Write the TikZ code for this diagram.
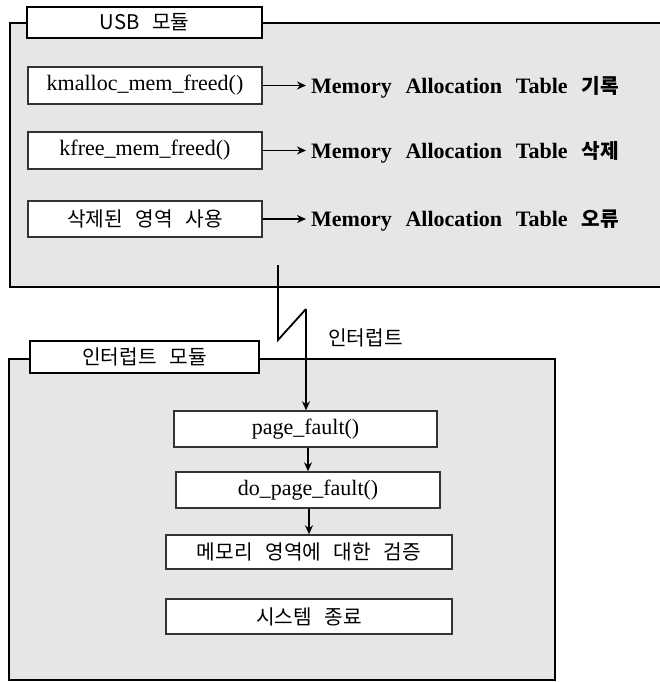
\documentclass[tikz,border=0pt]{standalone}
\usepackage{fontspec}
\setmainfont{Liberation Serif}[WordSpace=2.5]
\newfontfamily\kr[Scale=0.92,WordSpace=2.8]{Noto Sans CJK KR}
\usetikzlibrary{arrows.meta}
\definecolor{panel}{HTML}{E6E6E6}
\definecolor{boxline}{HTML}{333333}
\newcommand{\bigsz}{\fontsize{22}{26}\selectfont}
\tikzset{
  panelbox/.style={draw=black, line width=2.4pt, fill=panel},
  tabbox/.style={draw=black, line width=2.4pt, fill=white, inner sep=0pt, font=\bigsz\kr},
  fnbox/.style={draw=boxline, line width=1.4pt, fill=white, inner sep=0pt, font=\bigsz},
  conn/.style={line width=1.8pt, -{Stealth[length=9pt,width=8pt]}},
  plainline/.style={line width=1.8pt},
  result/.style={anchor=west, inner xsep=5pt, inner ysep=0pt, font=\bigsz\bfseries},
  lbl/.style={anchor=west, inner sep=0pt, font=\bigsz\kr}
}
\begin{document}
\begin{tikzpicture}[x=1pt, y=-1pt]
\useasboundingbox (0,0) rectangle (660,682);
\clip (0,0) rectangle (660,682);
% panels
\draw[panelbox] (10,23) rectangle (690,287);
\draw[panelbox] (9,359) rectangle (555,680);
% tabs
\node[tabbox, minimum width=235pt, minimum height=31pt] (usbtab) at (144.5,22.5) {USB 모듈};
\node[tabbox, minimum width=229pt, minimum height=32pt] (inttab) at (144.5,357) {인터럽트 모듈};
% USB module rows
\node[fnbox, minimum width=234pt, minimum height=37pt] (kmal) at (145,85.5) {kmalloc\_mem\_freed()};
\node[fnbox, minimum width=234pt, minimum height=37pt] (kfree) at (145,150.5) {kfree\_mem\_freed()};
\node[fnbox, minimum width=234pt, minimum height=36pt] (del) at (145,219) {\kr 삭제된 영역 사용};
\node[result] (r1) at (306,87) {Memory Allocation Table {\kr 기록}};
\node[result] (r2) at (306,152) {Memory Allocation Table {\kr 삭제}};
\node[result] (r3) at (306,221) {Memory Allocation Table {\kr 오류}};
\draw[conn] (kmal.east) -- (kmal.east -| r1.west);
\draw[conn] (kfree.east) -- (kfree.east -| r2.west);
\draw[conn] (del.east) -- (del.east -| r3.west);
% interrupt module
\node[fnbox, minimum width=263pt, minimum height=36pt] (pf) at (305.5,429) {page\_fault()};
\node[fnbox, minimum width=264pt, minimum height=36pt] (dpf) at (308,490) {do\_page\_fault()};
\node[fnbox, minimum width=286pt, minimum height=34pt] (mem) at (309,552) {\kr 메모리 영역에 대한 검증};
\node[fnbox, minimum width=286pt, minimum height=35pt] (sys) at (309,616.5) {\kr 시스템 종료};
% interrupt signal
\coordinate (s0) at (278,265);
\coordinate (z1) at (278,340);
\coordinate (z2) at (306,309);
\node[lbl] (intlbl) at (328,338) {인터럽트};
\draw[plainline] (s0) -- (z1) -- (z2);
\draw[conn] (z2) -- (z2 |- pf.north);
\draw[conn] (dpf.north |- pf.south) -- (dpf.north);
\draw[conn] (mem.north |- dpf.south) -- (mem.north);
\end{tikzpicture}
\end{document}
